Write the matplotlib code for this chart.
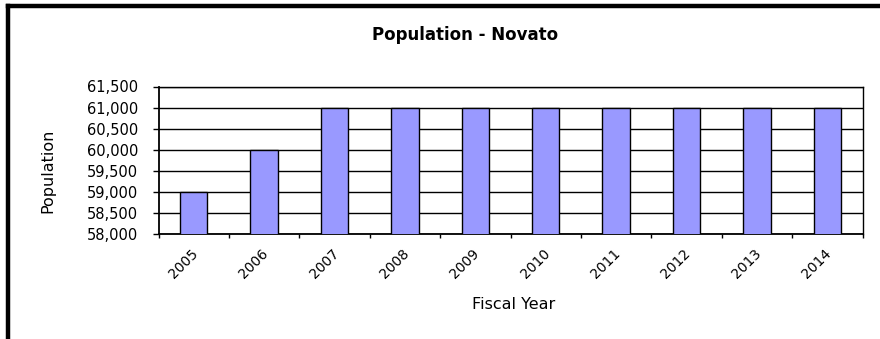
import matplotlib.pyplot as plt
from matplotlib.lines import Line2D
from matplotlib.ticker import FuncFormatter, MultipleLocator
from matplotlib.transforms import ScaledTranslation

plt.rcParams['font.family'] = ['DejaVu Sans']

years = ['2005', '2006', '2007', '2008', '2009', '2010', '2011', '2012', '2013', '2014']
population = [59000, 60000, 61000, 61000, 61000, 61000, 61000, 61000, 61000, 61000]

W, H = 880, 339
fig = plt.figure(figsize=(W / 100, H / 100), dpi=100)
ax = fig.add_axes([158.5 / W, 1 - 234 / H, (862.5 - 158.5) / W, (234 - 86.5) / H])

x = list(range(len(years)))
ax.bar(x, population, width=0.39, color='#9999FF', edgecolor='black', linewidth=1.0, zorder=3)

ax.set_ylim(58000, 61500)
ax.set_xlim(-0.5, len(years) - 0.5)
ax.yaxis.set_major_locator(MultipleLocator(500))
ax.yaxis.set_major_formatter(FuncFormatter(lambda v, p: f"{int(v):,}"))
ax.grid(axis='y', color='black', linewidth=1.0, zorder=0)

# ticks sit between the categories, labels on the categories
ax.set_xticks([i - 0.5 for i in range(len(years) + 1)])
ax.set_xticklabels([])
ax.set_xticks(x, minor=True)
ax.set_xticklabels(years, minor=True, rotation=45, ha='right', rotation_mode='anchor', fontsize=10)
ax.tick_params(axis='x', which='minor', length=0, pad=9)
ax.tick_params(axis='x', which='major', length=3, width=1, direction='out')
ax.tick_params(axis='y', length=4.5, width=1, labelsize=10.5, pad=10)
shift = ScaledTranslation(-3 / 100, 0, fig.dpi_scale_trans)
for lbl in ax.get_xticklabels(minor=True):
    lbl.set_transform(lbl.get_transform() + shift)

for s in ax.spines.values():
    s.set_color('black')
    s.set_linewidth(1.0)
ax.spines['left'].set_linewidth(1.3)
ax.spines['bottom'].set_linewidth(1.3)

ax.set_ylabel('Population', fontsize=11.5)
ax.yaxis.set_label_coords((55 - 158.5) / 704, (234 - 170.5) / 147.5)
ax.set_xlabel('Fiscal Year', fontsize=11.5)
ax.xaxis.set_label_coords((514 - 158.5) / 704, (234 - 297) / 147.5)
fig.text(465.5 / W, 1 - 35 / H, 'Population - Novato', ha='center', va='center',
         fontsize=12, fontweight='bold')

# outer frame (only top and left edges show)
fig.add_artist(Line2D([7.5 / W, 7.5 / W], [0, 1 - 5.5 / H], transform=fig.transFigure,
                      color='black', linewidth=3.2, solid_capstyle='projecting'))
fig.add_artist(Line2D([7.5 / W, 1], [1 - 5.5 / H, 1 - 5.5 / H], transform=fig.transFigure,
                      color='black', linewidth=3.2, solid_capstyle='projecting'))

fig.savefig('out.png', dpi=100)
